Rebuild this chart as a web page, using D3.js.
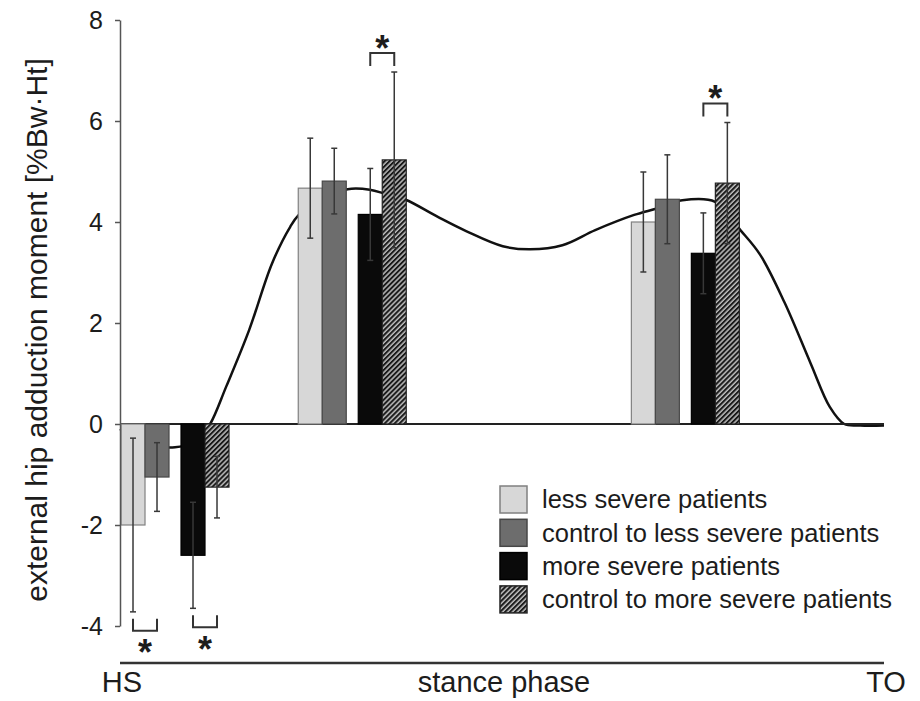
<!DOCTYPE html>
<html>
<head>
<meta charset="utf-8">
<script src="https://cdn.jsdelivr.net/npm/d3@7"></script>
<style>
  body { margin: 0; background: #fff; }
  text { font-family: "Liberation Sans", Arial, sans-serif; fill: #1c1c1c; }
</style>
</head>
<body>
<div id="chart"></div>
<script>
// stance phase (% of stance) where each group of bars sits
const phasePct = [7.2, 30.4, 74.0];

const seriesNames = ["less severe patients", "control to less severe patients",
  "more severe patients", "control to more severe patients"];

// means and SDs per series, one value per group
const lessMean = [-2.0, 4.67, 4.0];
const lessSD = [1.72, 0.99, 0.99];
const ctrlLessMean = [-1.05, 4.81, 4.45];
const ctrlLessSD = [0.68, 0.65, 0.88];
const moreMean = [-2.6, 4.15, 3.38];
const moreSD = [1.05, 0.91, 0.80];
const ctrlMoreMean = [-1.25, 5.23, 4.77];
const ctrlMoreSD = [0.61, 1.74, 1.20];

// average moment curve over stance
const curvePct = [0, 2.6, 5.2, 7.2, 9.2, 10.5, 11.8, 13.9, 16.9, 19.9, 22.3, 23.4, 26.2, 29.8, 32.7,
  34.7, 37.4, 41.6, 45.3, 50.1, 53.7, 57.9, 62.2, 67.3, 70.3, 73.6, 77.9, 81.2, 83.8, 87.0,
  90.4, 92.9, 94.8, 96.9, 100];
const curveVal = [-0.1, -0.35, -0.45, -0.46, -0.4, -0.24, 0, 0.74, 1.86, 3.18, 3.91, 4.14, 4.45, 4.65, 4.64,
  4.56, 4.44, 4.1, 3.82, 3.52, 3.46, 3.54, 3.84, 4.14, 4.27, 4.43, 4.40, 3.84, 3.35, 2.4,
  1.2, 0.34, 0, -0.03, -0.03];

const yTicks = [-4, -2, 0, 2, 4, 6, 8];

// significant differences: group, compared series, bracket side
const sigGroup = [0, 0, 1, 2];
const sigSeriesA = [0, 2, 2, 2];
const sigSeriesB = [1, 3, 3, 3];
const sigSide = ["below", "below", "above", "above"];

const W = 920, H = 701;
const means = [lessMean, ctrlLessMean, moreMean, ctrlMoreMean];
const sds = [lessSD, ctrlLessSD, moreSD, ctrlMoreSD];
const fills = ["#d7d7d7", "#6d6d6d", "#0a0a0a", "url(#hatch)"];
const strokes = ["#808080", "#474747", "#000", "#222"];

const svg = d3.select("#chart").append("svg")
    .attr("width", W)
    .attr("height", H);

const defs = svg.append("defs");
const hatch = defs.append("pattern")
    .attr("id", "hatch")
    .attr("patternUnits", "userSpaceOnUse")
    .attr("width", 3.5)
    .attr("height", 3.5)
    .attr("patternTransform", "rotate(45)");
hatch.append("rect").attr("width", 3.5).attr("height", 3.5).attr("fill", "#bdbdbd");
hatch.append("rect").attr("width", 2).attr("height", 3.5).attr("fill", "#1a1a1a");

const x = d3.scaleLinear().domain([0, 100]).range([120, 884]);
const y = d3.scaleLinear().domain([-4, 8]).range([626, 20]);

// sub-bar layout: pairs of bars with half a pair's gap between them
const slotStart = [0, 2, 5, 7];
const sub = d3.scaleLinear().domain([0, 9]).range([-54, 54]);
const barW = sub(2) - sub(0);

const bars = [];
phasePct.forEach((p, g) => {
    means.forEach((m, s) => {
        bars.push({ g, s, mean: m[g], sd: sds[s][g], x0: x(p) + sub(slotStart[s]) });
    });
});

// mean curve (under the bars)
const line = d3.line()
    .x((d, i) => x(curvePct[i]))
    .y(d => y(d))
    .curve(d3.curveCatmullRom);

svg.append("path")
    .attr("d", line(curveVal))
    .attr("fill", "none")
    .attr("stroke", "#111")
    .attr("stroke-width", 2.5);

// zero line
svg.append("line")
    .attr("x1", x(0)).attr("x2", x(100))
    .attr("y1", y(0)).attr("y2", y(0))
    .attr("stroke", "#222")
    .attr("stroke-width", 2);

svg.append("g").selectAll("rect")
    .data(bars)
    .join("rect")
    .attr("x", d => d.x0)
    .attr("y", d => y(Math.max(0, d.mean)))
    .attr("width", barW)
    .attr("height", d => Math.abs(y(d.mean) - y(0)))
    .attr("fill", d => fills[d.s])
    .attr("stroke", d => strokes[d.s])
    .attr("stroke-width", 1.2);

// error bars
const err = svg.append("g")
    .attr("stroke", "#383838")
    .attr("stroke-width", 1.5);
bars.forEach(d => {
    const cx = d.x0 + barW / 2;
    err.append("line").attr("x1", cx).attr("x2", cx)
        .attr("y1", y(d.mean + d.sd)).attr("y2", y(d.mean - d.sd));
    [d.mean + d.sd, d.mean - d.sd].forEach(v => {
        err.append("line").attr("x1", cx - 3).attr("x2", cx + 3)
            .attr("y1", y(v)).attr("y2", y(v));
    });
});

// y axis
const yAxis = svg.append("g")
    .attr("transform", `translate(${x(0)},0)`)
    .call(d3.axisLeft(y).tickValues(yTicks).tickSize(5).tickSizeOuter(0)
        .tickPadding(12).tickFormat(d => String(d)));
yAxis.select(".domain").attr("stroke", "#555").attr("stroke-width", 1.5);
yAxis.selectAll(".tick line").attr("stroke", "#555").attr("stroke-width", 1.5);
yAxis.selectAll(".tick text")
    .style("font-family", '"Liberation Sans", Arial, sans-serif')
    .style("font-size", "25px")
    .attr("fill", "#1c1c1c");

svg.append("text")
    .attr("transform", "translate(47,330) rotate(-90)")
    .attr("text-anchor", "middle")
    .style("font-size", "30px")
    .text("external hip adduction moment [%Bw\u00b7Ht]");

// significance brackets and stars
const starSize = 36;
sigGroup.forEach((g, i) => {
    const a = bars.find(b => b.g === g && b.s === sigSeriesA[i]);
    const b = bars.find(b => b.g === g && b.s === sigSeriesB[i]);
    const xa = a.x0 + barW / 2, xb = b.x0 + barW / 2;
    let y1, y2, starY;
    if (sigSide[i] === "above") {
        y1 = Math.min(y(a.mean + a.sd), y(b.mean + b.sd)) - 6;
        y2 = y1 - 13;
        starY = y2 - 13;
    } else {
        y1 = Math.max(y(a.mean - a.sd), y(b.mean - b.sd)) + 7;
        y2 = y1 + 12;
        starY = y2 + 14;
    }
    svg.append("path")
        .attr("d", `M${xa},${y1}V${y2}H${xb}V${y1}`)
        .attr("fill", "none")
        .attr("stroke", "#333")
        .attr("stroke-width", 2);
    svg.append("text")
        .attr("x", (xa + xb) / 2)
        .attr("y", starY + starSize * 0.57)
        .attr("text-anchor", "middle")
        .style("font-size", starSize + "px")
        .style("font-weight", "bold")
        .text("*");
});

// legend
const legend = svg.append("g").attr("transform", "translate(500,486)");
seriesNames.forEach((name, i) => {
    const row = legend.append("g").attr("transform", `translate(0,${i * 33.3})`);
    row.append("rect")
        .attr("width", 27).attr("height", 27)
        .attr("fill", fills[i])
        .attr("stroke", strokes[i])
        .attr("stroke-width", 1.5);
    row.append("text")
        .attr("x", 42).attr("y", 13.5)
        .attr("dy", "0.35em")
        .style("font-size", "25.5px")
        .text(name);
});

// stance phase axis
svg.append("line")
    .attr("x1", x(0)).attr("x2", x(100))
    .attr("y1", 663).attr("y2", 663)
    .attr("stroke", "#333")
    .attr("stroke-width", 2.5);

const phaseLabels = [["HS", 0], ["stance phase", 50], ["TO", 100]];
svg.selectAll(".phase")
    .data(phaseLabels)
    .join("text")
    .attr("class", "phase")
    .attr("x", d => x(d[1]) + 2)
    .attr("y", 692)
    .attr("text-anchor", "middle")
    .style("font-size", "29px")
    .text(d => d[0]);
</script>
</body>
</html>
